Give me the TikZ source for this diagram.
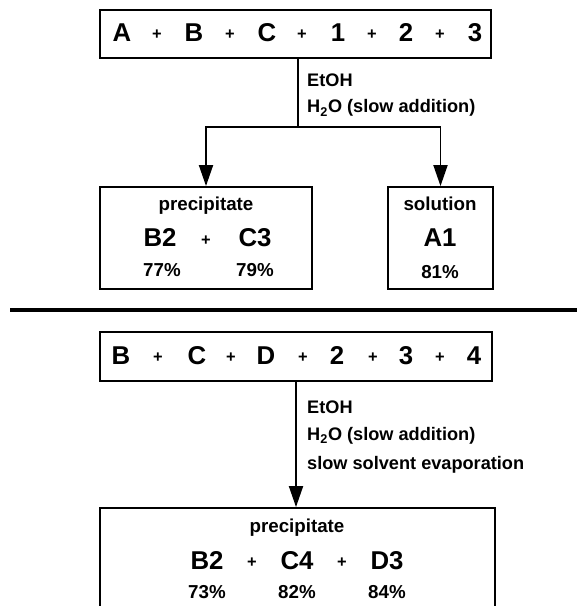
\documentclass[tikz,border=0pt]{standalone}
\usepackage{fontspec}
\setmainfont{Liberation Sans}
\usepackage{tikz}
\usetikzlibrary{arrows.meta}

\begin{document}
\begin{tikzpicture}[x=0.3mm, y=-0.3mm]
\tikzstyle{box}=[draw, line width=1.6pt, inner sep=0pt]
\tikzstyle{big}=[anchor=base, inner sep=0pt, font=\fontsize{22}{26}\selectfont\bfseries]
\tikzstyle{plus}=[anchor=base, inner sep=0pt, font=\fontsize{14}{16}\selectfont\bfseries]
\tikzstyle{small}=[anchor=base, inner sep=0pt, font=\fontsize{16}{19}\selectfont\bfseries]
\tikzstyle{cond}=[anchor=base west, inner sep=0pt, font=\fontsize{15.5}{18}\selectfont\bfseries]
\tikzstyle{arr}=[line width=1.6pt, -{Triangle[length=6.3mm, width=4.2mm]}]
\clip (0,0) rectangle (577,606);

% first experiment
\node[box, minimum width=117.3mm, minimum height=14.4mm] (mixA) at (295.5,34) {};
\node[big] (a1) at (122,42) {A};
\node[plus] (pa1) at (157,40) {+};
\node[big] (a2) at (194,42) {B};
\node[plus] (pa2) at (230,40) {+};
\node[big] (a3) at (267,42) {C};
\node[plus] (pa3) at (302,40) {+};
\node[big] (a4) at (338,42) {1};
\node[plus] (pa4) at (372,40) {+};
\node[big] (a5) at (406,42) {2};
\node[plus] (pa5) at (440,40) {+};
\node[big] (a6) at (475,42) {3};

\node[cond] (etohA) at (307,87) {EtOH};
\node[cond] (waterA) at (307,113) {H\textsubscript{2}O (slow addition)};

\node[box, minimum width=63.6mm, minimum height=30.6mm] (precA) at (206,238) {};
\node[small] (ptA) at (206,211) {precipitate};
\node[big] (b2A) at (160,247) {B2};
\node[plus] (pb) at (206,245) {+};
\node[big] (c3A) at (255,247) {C3};
\node[small] (yb2A) at (162,277) {77\%};
\node[small] (yc3A) at (255,277) {79\%};

\node[box, minimum width=31.5mm, minimum height=30.6mm] (solA) at (440.5,238) {};
\node[small] (stA) at (440,211) {solution};
\node[big] (a1A) at (440,247) {A1};
\node[small] (ya1A) at (440,278) {81\%};

\coordinate (split) at (298,127);
\draw[line width=1.6pt] (split |- mixA.south) -- (split);
\draw[arr] (split) -| (precA.north);
\draw[arr] (split) -| (solA.north);

% separator
\draw[line width=3.4pt] (10,310) -- (577,310);

% second experiment
\node[box, minimum width=117.6mm, minimum height=14.7mm] (mixB) at (296,356.5) {};
\node[big] (b1) at (121,364) {B};
\node[plus] (pb1) at (158,362) {+};
\node[big] (b2) at (197,364) {C};
\node[plus] (pb2) at (231,362) {+};
\node[big] (b3) at (266,364) {D};
\node[plus] (pb3) at (303,362) {+};
\node[big] (b4) at (337,364) {2};
\node[plus] (pb4) at (373,362) {+};
\node[big] (b5) at (406,364) {3};
\node[plus] (pb5) at (440,362) {+};
\node[big] (b6) at (474,364) {4};

\node[cond] (etohB) at (307,413) {EtOH};
\node[cond] (waterB) at (307,440) {H\textsubscript{2}O (slow addition)};
\node[cond] (evapB) at (307,469) {slow solvent evaporation};

\node[box, minimum width=118.5mm, minimum height=43.2mm] (precB) at (297.5,580) {};
\node[small] (ptB) at (297,532) {precipitate};
\node[big] (b2B) at (207,569) {B2};
\node[plus] (pc1) at (252,567) {+};
\node[big] (c4B) at (297,569) {C4};
\node[plus] (pc2) at (342,567) {+};
\node[big] (d3B) at (387,569) {D3};
\node[small] (yb2B) at (207,598) {73\%};
\node[small] (yc4B) at (297,598) {82\%};
\node[small] (yd3B) at (387,598) {84\%};

\draw[arr] (mixB.south) -- (mixB.south |- precB.north);

\end{tikzpicture}
\end{document}
